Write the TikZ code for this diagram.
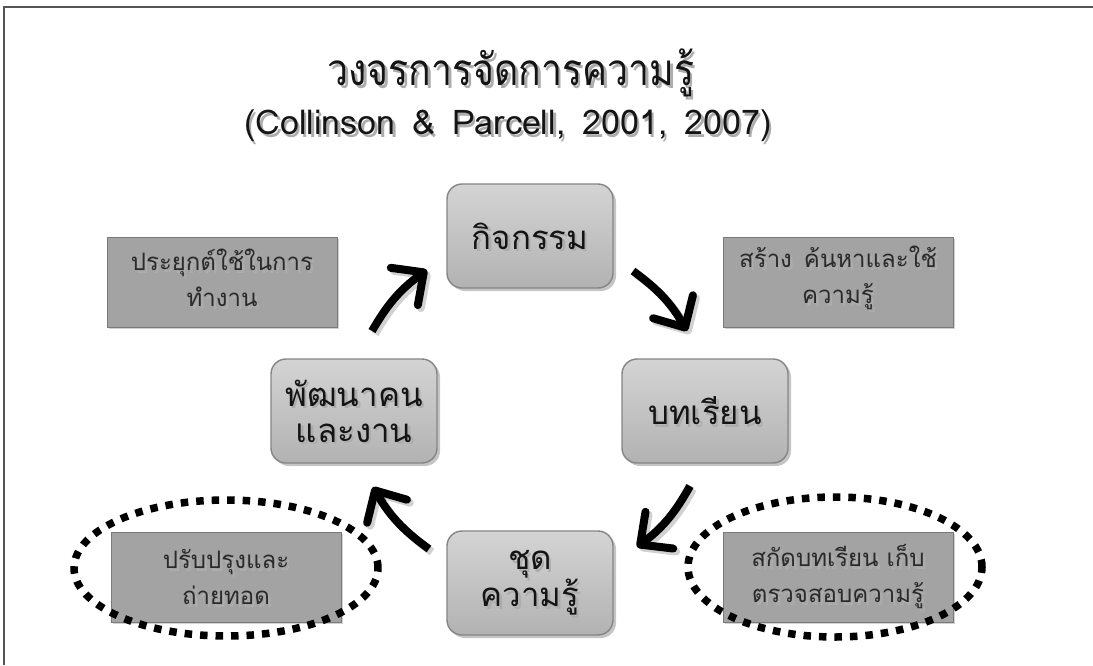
\documentclass[tikz,border=0pt]{standalone}
\usepackage{fontspec}
\newfontfamily\thai[Script=Thai]{Loma}
\newfontfamily\thaititle[Script=Thai,FakeStretch=0.85]{Loma}
\newfontfamily\citefont{Loma}
\usetikzlibrary{shadows,arrows.meta,shapes.geometric}

\definecolor{boxtop}{HTML}{D4D4D4}
\definecolor{boxbot}{HTML}{B2B2B2}
\definecolor{boxline}{HTML}{858585}
\definecolor{notefill}{HTML}{A3A3A3}
\definecolor{noteline}{HTML}{7A7A7A}
\definecolor{ink}{HTML}{141414}
\definecolor{noteink}{HTML}{2A2A2A}
\definecolor{frame}{HTML}{555555}

\tikzset{
  stagebox/.style={rounded corners=15pt, minimum width=166pt, minimum height=104pt,
    inner sep=0pt, top color=boxtop, bottom color=boxbot, draw=boxline, line width=1.4pt,
    drop shadow={shadow xshift=3pt, shadow yshift=-3pt, opacity=0.45}},
  notebox/.style={minimum width=230pt, minimum height=90pt, inner sep=0pt,
    fill=notefill, draw=noteline, line width=1pt,
    drop shadow={shadow xshift=2pt, shadow yshift=-2pt, opacity=0.35}},
  dotring/.style={ellipse, draw=black, line width=7.5pt, dash pattern=on 7.5pt off 8pt,
    inner sep=0pt},
  stagetext/.style={font=\thai\fontsize{33}{36}\selectfont, text=ink, align=center},
  notetext/.style={font=\thai\fontsize{24}{36}\selectfont, text=noteink, align=center},
  cyclearrow/.style={line width=8pt, draw=black,
    -{Straight Barb[length=24pt, width=46pt, line width=8pt, round]}},
  arrowshade/.style={line width=8pt, draw=black, opacity=0.18,
    -{Straight Barb[length=24pt, width=46pt, line width=8pt, round]}},
}

% text with a soft offset copy behind it; #2 is a coordinate without parentheses
\newcommand\shtext[4]{%
  \node[#3, text=black!32] at ([shift={(2.5pt,-2.5pt)}]#2) {#4};
  \node[#3] (#1) at (#2) {#4};}

\begin{document}
\begin{tikzpicture}[x=1pt, y=-1pt]
\useasboundingbox (0,0) rectangle (1093,665);
\fill[white] (0,0) rectangle (1093,665);

% frame
\coordinate (f0) at (4,7);
\coordinate (f1) at (1093,7);
\coordinate (f2) at (4,665);
\draw[frame, line width=1.5pt] (f1) -- (f0) -- (f2);

% heading
\shtext{title}{511,73}{font=\thaititle\fontsize{44}{50}\selectfont, text=ink}{วงจรการจัดการความรู้}
\shtext{cite}{508,126}{font=\citefont\fontsize{34}{40}\selectfont, text=ink}{(Collinson\enspace \&\enspace Parcell,\enspace 2001,\enspace 2007)}

% notes
\node[notebox] (n1) at (222,282) {};
\node[notebox] (n2) at (838,282) {};
\node[notebox] (n3) at (226,577) {};
\node[notebox] (n4) at (838,577) {};
\shtext{t1}{n1}{notetext, yshift=4pt}{ประยุกต์ใช้ในการ\\ทำงาน}
\shtext{t2}{n2}{notetext, yshift=4pt}{สร้าง\enspace ค้นหาและใช้\\ความรู้}
\shtext{t3}{n3}{notetext}{ปรับปรุงและ\\ถ่ายทอด}
\shtext{t4}{n4}{notetext}{สกัดบทเรียน เก็บ\\ตรวจสอบความรู้}

% dotted rings over the lower notes
\node[dotring, minimum width=304pt, minimum height=136pt] (ringL) at (226,568) {};
\node[dotring, minimum width=294pt, minimum height=140pt] (ringR) at (835,567) {};

% stages
\node[stagebox] (s1) at (530,236) {};
\node[stagebox] (s2) at (705,411) {};
\node[stagebox] (s3) at (530,583) {};
\node[stagebox] (s4) at (354,411) {};
\shtext{l1}{s1}{stagetext}{กิจกรรม}
\shtext{l2}{s2}{stagetext}{บทเรียน}
\shtext{l3}{s3}{stagetext}{ชุด\\ความรู้}
\shtext{l4}{s4}{stagetext}{พัฒนาคน\\และงาน}

% arrow ends
\coordinate (a1s) at (372,331);
\coordinate (a1e) at (427,270);
\coordinate (a2s) at (633,271);
\coordinate (a2e) at (687,331);
\coordinate (a3s) at (690,486);
\coordinate (a3e) at (637,547);
\coordinate (a4s) at (429,549);
\coordinate (a4e) at (373,487);

\foreach \p/\q in {a1s/a1e, a2s/a2e, a3s/a3e, a4s/a4e}{
  \draw[arrowshade, transform canvas={shift={(3pt,-3pt)}}] (\p) to[bend left=12] (\q);
  \draw[cyclearrow] (\p) to[bend left=12] (\q);
}
\end{tikzpicture}
\end{document}
